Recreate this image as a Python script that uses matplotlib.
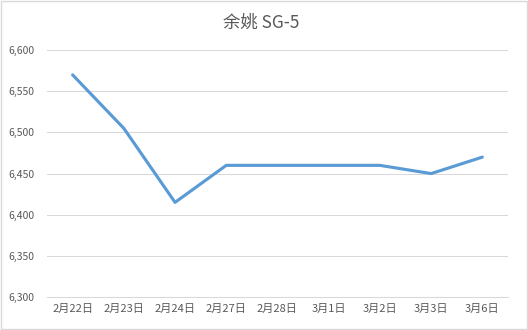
import matplotlib
matplotlib.use("Agg")
import matplotlib.pyplot as plt
from matplotlib.ticker import FuncFormatter

plt.rcParams['font.family'] = ['Noto Sans CJK SC', 'DejaVu Sans']

dates = ["2月22日", "2月23日", "2月24日", "2月27日", "2月28日", "3月1日", "3月2日", "3月3日", "3月6日"]
prices = [6570, 6505, 6415, 6460, 6460, 6460, 6460, 6450, 6470]
title = "余姚 SG-5"

fig = plt.figure(figsize=(5.28, 3.30), dpi=100)
ax = fig.add_axes([0.089, 0.10, 0.873, 0.748])

x = list(range(len(dates)))
ax.plot(x, prices, color="#5B9BD5", linewidth=2.25, solid_capstyle="round")

ax.set_xlim(-0.5, len(dates) - 0.5)
ax.set_ylim(6300, 6600)
ax.set_yticks(range(6300, 6601, 50))
ax.yaxis.set_major_formatter(FuncFormatter(lambda v, p: f"{int(v):,}"))
ax.set_xticks(x)
ax.set_xticklabels(dates)

ax.grid(axis="y", color="#D9D9D9", linewidth=0.75)
ax.set_axisbelow(True)
for s in ["top", "right", "left"]:
    ax.spines[s].set_visible(False)
ax.spines["bottom"].set_color("#D9D9D9")
ax.spines["bottom"].set_linewidth(0.75)
ax.tick_params(axis="both", length=0, colors="#595959")
ax.tick_params(axis="x", labelsize=8, pad=5)
ax.tick_params(axis="y", labelsize=7.5, pad=9)

fig.text(0.495, 0.93, title, ha="center", va="center", fontsize=12.5, color="#595959")

# light border round the chart
fig.patches.append(plt.Rectangle((0.002, 0.003), 0.996, 0.994, transform=fig.transFigure,
                                 fill=False, edgecolor="#D9D9D9", linewidth=1))

fig.savefig("out.png", dpi=100)
